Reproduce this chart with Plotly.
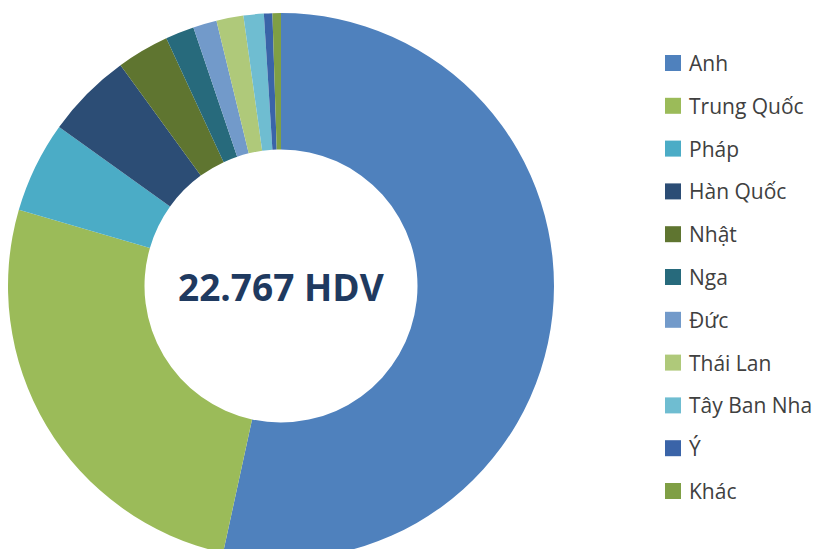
import plotly.graph_objects as go

# the page body adds an 8px margin, so the figure is laid out in page px minus 8
W, H = 816, 560
OFF = 8

countries = ["Anh", "Trung Quốc", "Pháp", "Hàn Quốc", "Nhật", "Nga",
             "Đức", "Thái Lan", "Tây Ban Nha", "Ý", "Khác"]
guides = [12158, 5942, 1229, 1161, 706, 387, 319, 364, 273, 114, 114]
colors = ["#4F81BD", "#9BBB59", "#4BACC6", "#2C4D75", "#5F7530", "#276A7C",
          "#729ACA", "#AFC97A", "#6FBDD1", "#3A64A8", "#7F9F45"]
total_label = "22.767 HDV"

# pie geometry (page pixels)
cx, cy, r = 281, 286, 273


def px_x(x):
    return (x - OFF) / W


def px_y(y):
    return 1 - (y - OFF) / H


fig = go.Figure(go.Pie(
    labels=countries,
    values=guides,
    marker=dict(colors=colors, line=dict(width=0)),
    hole=0.5,
    sort=False,
    direction="clockwise",
    rotation=0,
    textinfo="none",
    hoverinfo="label+value+percent",
    showlegend=False,
    domain=dict(x=[px_x(cx - r), px_x(cx + r)], y=[px_y(cy + r), px_y(cy - r)]),
))

fig.add_annotation(
    text=f"<b>{total_label}</b>", x=px_x(cx), y=px_y(cy),
    xref="paper", yref="paper", showarrow=False, yanchor="middle",
    font=dict(family="Open Sans", size=37, color="#1F3A60"),
)

# legend drawn by hand so the row spacing matches the original
row0, gap, box = 63, 42.8, 16
for i, (name, col) in enumerate(zip(countries, colors)):
    yc = row0 + gap * i
    fig.add_shape(
        type="rect", xref="paper", yref="paper",
        x0=px_x(665), x1=px_x(665 + box),
        y0=px_y(yc - box / 2), y1=px_y(yc + box / 2),
        fillcolor=col, line=dict(width=0),
    )
    fig.add_annotation(
        text=name, x=px_x(687), y=px_y(yc), xref="paper", yref="paper",
        xanchor="left", yanchor="middle", showarrow=False,
        font=dict(family="Open Sans", size=21, color="#404040"),
    )

fig.update_layout(
    width=W, height=H,
    margin=dict(l=0, r=0, t=0, b=0),
    paper_bgcolor="white", plot_bgcolor="white",
)

fig.write_html("out.html")
